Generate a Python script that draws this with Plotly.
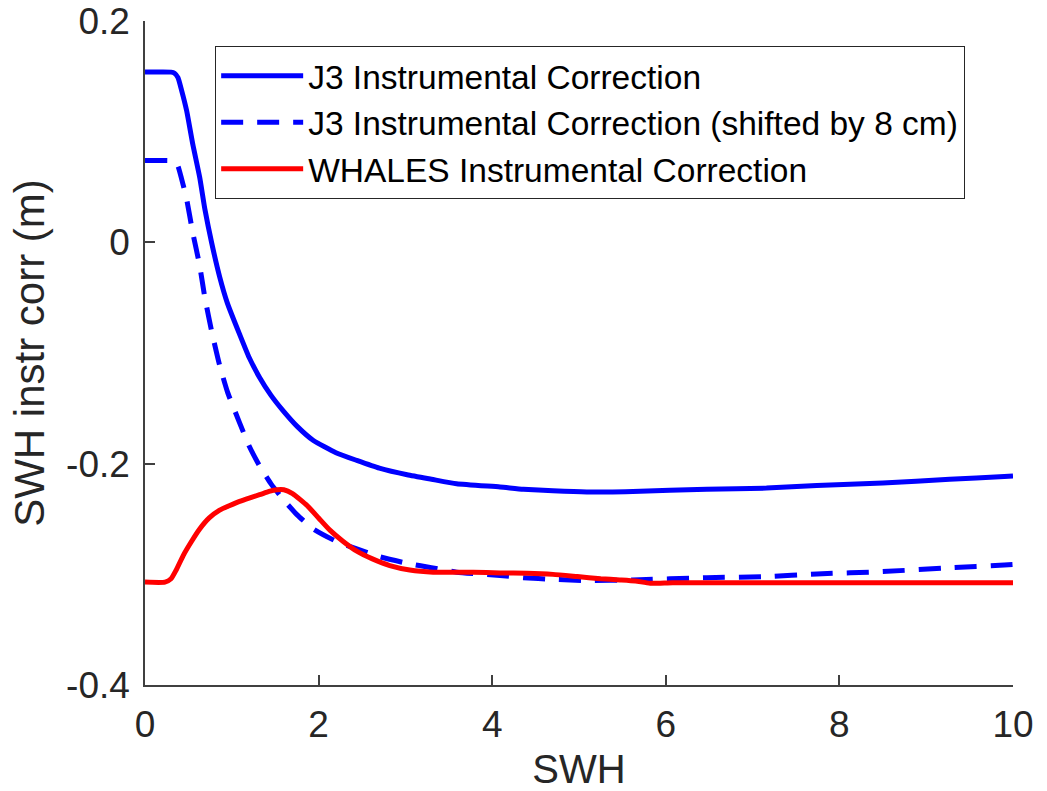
import plotly.graph_objects as go

# SWH grid (m)
swh_j3 = [0, 0.30, 0.34, 0.38, 0.42, 0.48, 0.55, 0.63, 0.69, 0.77, 0.86, 0.95, 1.09, 1.20, 1.32,
          1.45, 1.59, 1.75, 1.94, 2.2, 2.44, 2.7, 3.02, 3.3, 3.59, 4.09, 4.36, 4.7, 5.09, 5.62,
          6.47, 7.16, 7.74, 8.5, 9.27, 9.9, 10]
j3_corr = [0.154, 0.154, 0.153, 0.149, 0.138, 0.119, 0.089, 0.059, 0.030, -0.001, -0.031,
           -0.055, -0.083, -0.104, -0.122, -0.138, -0.152, -0.166, -0.179, -0.190, -0.197,
           -0.204, -0.210, -0.214, -0.218, -0.221, -0.223, -0.2245, -0.2256, -0.225, -0.223,
           -0.222, -0.2196, -0.2175, -0.214, -0.2115, -0.211]
j3_shift = [0.074, 0.074, 0.073, 0.069, 0.058, 0.039, 0.009, -0.021, -0.050, -0.081, -0.111,
            -0.135, -0.163, -0.184, -0.202, -0.218, -0.232, -0.246, -0.259, -0.270, -0.277,
            -0.284, -0.290, -0.294, -0.298, -0.301, -0.303, -0.3045, -0.3056, -0.305, -0.303,
            -0.302, -0.2996, -0.2975, -0.294, -0.2915, -0.291]

swh_wh = [0, 0.23, 0.30, 0.36, 0.44, 0.53, 0.63, 0.74, 0.86, 0.97, 1.09, 1.20, 1.32, 1.43, 1.52,
          1.60, 1.70, 1.87, 2.0, 2.13, 2.28, 2.44, 2.62, 2.82, 3.05, 3.32, 3.78, 4.09, 4.40, 4.70,
          4.98, 5.25, 5.47, 5.65, 5.82, 6.08, 7.0, 8.0, 9.0, 10]
whales_corr = [-0.307, -0.307, -0.304, -0.296, -0.283, -0.271, -0.259, -0.249, -0.242, -0.238,
               -0.234, -0.231, -0.228, -0.225, -0.2235, -0.2235, -0.227, -0.238, -0.249, -0.260,
               -0.270, -0.279, -0.286, -0.292, -0.296, -0.298, -0.298, -0.2987, -0.299, -0.300,
               -0.302, -0.304, -0.305, -0.306, -0.308, -0.3075, -0.3075, -0.3075, -0.3075, -0.3075]

x_ticks = [0, 2, 4, 6, 8, 10]
y_ticks = [0.2, 0, -0.2, -0.4]
y_ticktext = ["0.2", "0", "-0.2", "-0.4"]

names = ["J3 Instrumental Correction",
         "J3 Instrumental Correction (shifted by 8 cm)",
         "WHALES Instrumental Correction"]

fig = go.Figure()
fig.add_trace(go.Scatter(x=swh_j3, y=j3_corr, mode="lines", name=names[0],
                         line=dict(color="#0000FF", width=5, shape="spline", smoothing=0.5)))
fig.add_trace(go.Scatter(x=swh_j3, y=j3_shift, mode="lines", name=names[1],
                         line=dict(color="#0000FF", width=5, dash="22px,14px",
                                   shape="spline", smoothing=0.5)))
fig.add_trace(go.Scatter(x=swh_wh, y=whales_corr, mode="lines", name=names[2],
                         line=dict(color="#FF0000", width=5, shape="spline", smoothing=0.5)))

axis_common = dict(showgrid=False, zeroline=False, showline=True, linecolor="#404040",
                   linewidth=1.5, ticks="inside", ticklen=10, tickwidth=1.5, tickcolor="#404040",
                   tickfont=dict(family="Liberation Sans, Arial, sans-serif", size=37, color="#262626"),
                   mirror=False, automargin=False)

fig.update_layout(
    width=1047, height=791,
    margin=dict(l=145, r=34, t=21, b=106),
    paper_bgcolor="white", plot_bgcolor="white",
    font=dict(family="Liberation Sans, Arial, sans-serif", color="#262626"),
    xaxis=dict(range=[0, 10], tickvals=x_ticks, ticktext=[str(v) for v in x_ticks],
               ticklabelstandoff=6,
               title=dict(text="SWH", font=dict(size=40), standoff=14), **axis_common),
    yaxis=dict(range=[-0.4, 0.2002], tickvals=y_ticks, ticktext=y_ticktext,
               ticklabelstandoff=6,
               title=dict(text="SWH instr corr (m)", font=dict(size=42), standoff=8), **axis_common),
    legend=dict(x=0.0806, y=0.962, xanchor="left", yanchor="top",
                bgcolor="white", bordercolor="#262626", borderwidth=1.2,
                font=dict(size=33.5, color="#000000"), itemwidth=82,
                tracegroupgap=0),
    showlegend=True,
)

fig.write_html("out.html")
